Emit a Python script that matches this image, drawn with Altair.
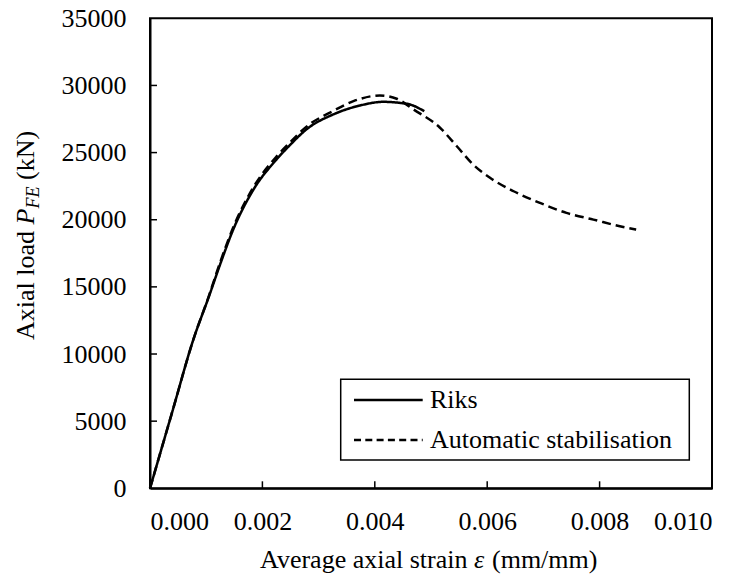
import altair as alt
import pandas as pd

# ---------------- data ----------------
SERIES = ["Riks", "Automatic stabilisation"]

RIKS_STRAIN = [0.0, 0.0004, 0.00077, 0.00105, 0.00125, 0.00148, 0.00184, 0.00225,
               0.0025, 0.00279, 0.00326, 0.00374, 0.00415, 0.00445, 0.00463, 0.00488]
RIKS_LOAD = [0, 5750, 11060, 14300, 16700, 19260, 22240, 24480,
             25600, 26750, 27840, 28510, 28780, 28700, 28580, 28080]

AUTO_STRAIN = [0.0, 0.0004, 0.00077, 0.00105, 0.00125, 0.00148, 0.00184, 0.00225,
               0.0025, 0.00279, 0.00326, 0.00362, 0.00374, 0.00409, 0.00439, 0.00469,
               0.00516, 0.00546, 0.00575, 0.00605, 0.00647, 0.00694, 0.00741, 0.00789,
               0.00836, 0.00865]
AUTO_LOAD = [0, 5750, 11060, 14350, 16850, 19420, 22420, 24700,
             25800, 26950, 28100, 28830, 29000, 29250, 29010, 28210,
             26850, 25470, 24110, 23120, 22120, 21250, 20510, 20010,
             19510, 19260]

X_TICKS = [0.0, 0.002, 0.004, 0.006, 0.008, 0.010]
Y_TICKS = [0, 5000, 10000, 15000, 20000, 25000, 30000, 35000]

Y_TITLE = ["Axial load", "P", "FE", "(kN)"]
X_TITLE = ["Average axial strain", "ε", "(mm/mm)"]

# ---------------- layout ----------------
W, H = 562, 470
FONT = "Liberation Serif"
FS = 26

rows = []
for name, xs_, ys_ in [(SERIES[0], RIKS_STRAIN, RIKS_LOAD), (SERIES[1], AUTO_STRAIN, AUTO_LOAD)]:
    for i, (a, b) in enumerate(zip(xs_, ys_)):
        rows.append({"series": name, "strain": a, "load": b, "idx": i})
df = pd.DataFrame(rows)

xscale = alt.Scale(domain=[X_TICKS[0], X_TICKS[-1]], nice=False, zero=False)
yscale = alt.Scale(domain=[Y_TICKS[0], Y_TICKS[-1]], nice=False)
DASHES = [[1, 0], [9, 5]]
dash_scale = alt.Scale(domain=SERIES, range=DASHES)

axis_common = dict(grid=False, ticks=False, domainColor="black", domainWidth=2,
                   labelFont=FONT, labelFontSize=FS, labelColor="black", title=None)
xaxis = alt.Axis(values=X_TICKS, format=".3f", labelPadding=20, **axis_common)
yaxis = alt.Axis(values=Y_TICKS, format="d", labelPadding=24, **axis_common)

lines = alt.Chart(df).mark_line(color="black", strokeWidth=2.5, interpolate="monotone").encode(
    x=alt.X("strain:Q", scale=xscale, axis=xaxis),
    y=alt.Y("load:Q", scale=yscale, axis=yaxis),
    strokeDash=alt.StrokeDash("series:N", scale=dash_scale, legend=None),
    order="idx:Q",
)

# inward tick marks
xt = alt.Chart(pd.DataFrame({"strain": X_TICKS[1:-1]})).mark_rule(color="black", strokeWidth=1.5).encode(
    x=alt.X("strain:Q", scale=xscale, axis=xaxis), y=alt.value(H), y2=alt.value(H - 7))
yt = alt.Chart(pd.DataFrame({"load": Y_TICKS[1:-1]})).mark_rule(color="black", strokeWidth=1.5).encode(
    y=alt.Y("load:Q", scale=yscale, axis=yaxis), x=alt.value(0), x2=alt.value(7))


def txt(text, x, y, **kw):
    return alt.Chart(pd.DataFrame({"t": [text]})).mark_text(
        font=FONT, color="black", **kw).encode(text="t:N", x=alt.value(x), y=alt.value(y))


# y title (rotated, composed of pieces)
ybx = -116.5
ytitle = [
    txt(Y_TITLE[0], ybx, 321.7, angle=270, align="left", baseline="alphabetic", fontSize=FS),
    txt(Y_TITLE[1], ybx, 206.2, angle=270, align="left", baseline="alphabetic", fontSize=FS, fontStyle="italic"),
    txt(Y_TITLE[2], ybx + 5, 190.3, angle=270, align="left", baseline="alphabetic", fontSize=18, fontStyle="italic"),
    txt(Y_TITLE[3], ybx, 161.7, angle=270, align="left", baseline="alphabetic", fontSize=FS),
]

# x title
xby = H + 79.7
xtitle = [
    txt(X_TITLE[0], 317.5, xby, align="right", baseline="alphabetic", fontSize=FS),
    txt(X_TITLE[1], 324, xby, align="left", baseline="alphabetic", fontSize=FS, fontStyle="italic"),
    txt(X_TITLE[2], 342, xby, align="left", baseline="alphabetic", fontSize=FS),
]

# legend
box = alt.Chart(pd.DataFrame({"a": [0]})).mark_rect(fill="white", stroke="black", strokeWidth=1.5).encode(
    x=alt.value(190.7), x2=alt.value(539.3), y=alt.value(361), y2=alt.value(441.7))
leg = [box]
for i, name in enumerate(SERIES):
    yy = 381.7 + 40 * i
    leg.append(alt.Chart(pd.DataFrame({"series": [name]})).mark_rule(
        color="black", strokeWidth=2.5, strokeDash=[7, 4.3] if i else [1, 0]).encode(
        x=alt.value(204), x2=alt.value(272.7), y=alt.value(yy)))
    leg.append(txt(name, 280, yy, align="left", baseline="middle", fontSize=FS))

chart = alt.layer(lines, xt, yt, *leg, *ytitle, *xtitle).properties(
    width=W, height=H,
    padding={"left": 150, "top": 18.3, "right": 34, "bottom": 91.7},
    autosize=alt.AutoSizeParams(type="none"),
    background="white",
).configure_view(stroke="black", strokeWidth=2)

chart.save("out.html", embed_options={"renderer": "svg", "actions": False})
